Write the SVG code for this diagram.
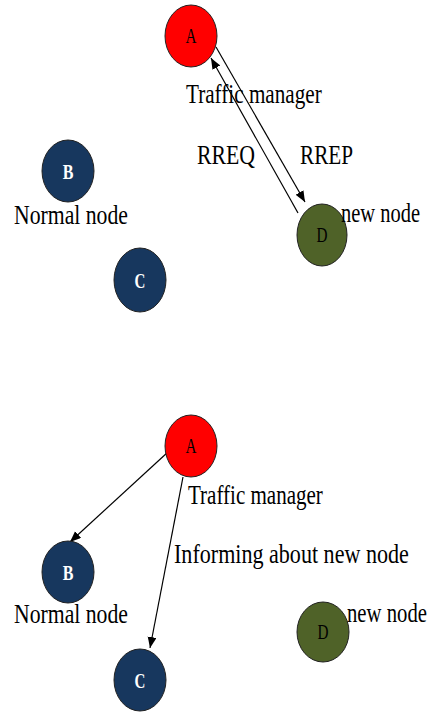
<svg xmlns="http://www.w3.org/2000/svg" width="435" height="712" viewBox="0 0 435 712">
<style>
.lbl{font-family:"Liberation Serif","Times New Roman",serif;font-size:28px;fill:#000}
.nl{font-family:"Liberation Serif","Times New Roman",serif;font-size:20px;text-anchor:middle}
.red{fill:#ff0000;stroke:#222;stroke-width:1}
.blue{fill:#17375e;stroke:#222;stroke-width:1}
.green{fill:#4f6228;stroke:#222;stroke-width:1}
.edge{stroke:#000;stroke-width:1.2;fill:none;marker-end:url(#arr)}
</style>
<defs>
<marker id="arr" markerUnits="userSpaceOnUse" markerWidth="12" markerHeight="10" refX="11" refY="4.5" orient="auto">
<path d="M0,0 L11,4.5 L0,9 z" fill="#000"/>
</marker>
</defs>
<rect width="435" height="712" fill="#fff"/>
<g id="connectors">
<line class="edge" x1="298" y1="213" x2="211" y2="58"/>
<line class="edge" x1="216" y1="47" x2="305" y2="202"/>
<line class="edge" x1="168" y1="452" x2="70" y2="542"/>
<line class="edge" x1="183" y1="477" x2="150" y2="648"/>
</g>
<g id="top-A"><ellipse class="red" cx="191" cy="36" rx="26" ry="31"/><text class="nl" transform="translate(191,43) scale(0.76,1)">A</text></g>
<g id="top-B"><ellipse class="blue" cx="68" cy="171" rx="26" ry="31"/><text class="nl" transform="translate(68,179) scale(0.8,1)" fill="#fff" font-weight="bold">B</text></g>
<g id="top-C"><ellipse class="blue" cx="140" cy="280" rx="26" ry="32"/><text class="nl" transform="translate(140,288) scale(0.75,1)" fill="#fff" font-weight="bold">C</text></g>
<g id="top-D"><ellipse class="green" cx="322" cy="235" rx="25" ry="31"/><text class="nl" transform="translate(322,242) scale(0.76,1)">D</text></g>
<g id="top-labels">
<text class="lbl" transform="translate(186,103) scale(0.756,1)">Traffic manager</text>
<text class="lbl" transform="translate(197,164) scale(0.777,1)">RREQ</text>
<text class="lbl" transform="translate(300,164) scale(0.757,1)">RREP</text>
<text class="lbl" transform="translate(341,222) scale(0.731,1)">new node</text>
<text class="lbl" transform="translate(14,224) scale(0.776,1)">Normal node</text>
</g>
<g id="bot-A"><ellipse class="red" cx="191" cy="446" rx="26" ry="31"/><text class="nl" transform="translate(191,453) scale(0.76,1)">A</text></g>
<g id="bot-B"><ellipse class="blue" cx="68" cy="572" rx="26" ry="31"/><text class="nl" transform="translate(68,580) scale(0.8,1)" fill="#fff" font-weight="bold">B</text></g>
<g id="bot-C"><ellipse class="blue" cx="140" cy="680" rx="26" ry="31"/><text class="nl" transform="translate(140,688) scale(0.75,1)" fill="#fff" font-weight="bold">C</text></g>
<g id="bot-D"><ellipse class="green" cx="323" cy="632" rx="26" ry="30"/><text class="nl" transform="translate(323,639) scale(0.76,1)">D</text></g>
<g id="bot-labels">
<text class="lbl" transform="translate(188,504) scale(0.751,1)">Traffic manager</text>
<text class="lbl" transform="translate(174,563) scale(0.789,1)">Informing about new node</text>
<text class="lbl" transform="translate(14,623) scale(0.776,1)">Normal node</text>
<text class="lbl" transform="translate(347,622) scale(0.74,1)">new node</text>
</g>
</svg>
